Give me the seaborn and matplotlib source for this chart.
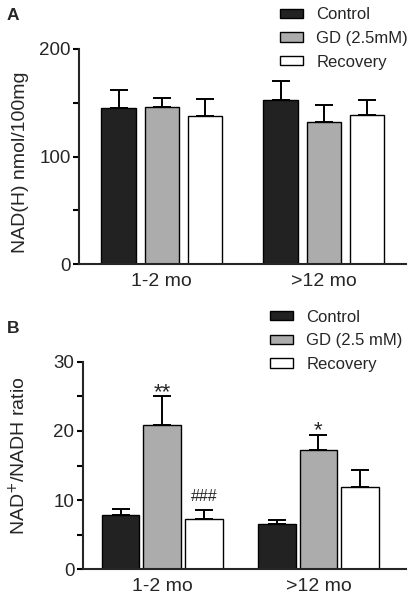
import numpy as np
import pandas as pd
import matplotlib
matplotlib.use("Agg")
import matplotlib.pyplot as plt
import seaborn as sns

ages = ["1-2 mo", ">12 mo"]
groups_a = ["Control", "GD (2.5mM)", "Recovery"]
groups_b = ["Control", "GD (2.5 mM)", "Recovery"]

# Panel A: NAD(H) nmol/100mg (mean, upper error)
nadh_control = [145.4, 152.8]
nadh_gd = [145.6, 131.8]
nadh_recovery = [138.0, 138.2]
nadh_control_err = [16.0, 16.9]
nadh_gd_err = [8.7, 16.3]
nadh_recovery_err = [15.7, 14.6]

# Panel B: NAD+/NADH ratio
ratio_control = [7.9, 6.5]
ratio_gd = [20.9, 17.3]
ratio_recovery = [7.3, 11.9]
ratio_control_err = [0.8, 0.6]
ratio_gd_err = [4.1, 2.1]
ratio_recovery_err = [1.3, 2.5]

annot_b = [("GD (2.5 mM)", "1-2 mo", "**", 16, -1.5),
           ("Recovery", "1-2 mo", "###", 11.5, 6.5),
           ("GD (2.5 mM)", ">12 mo", "*", 16, -1.0)]

colors = ["#222222", "#acacac", "#ffffff"]

sns.set_style("ticks")
plt.rcParams['font.family'] = ['Liberation Sans', 'DejaVu Sans']
plt.rcParams['font.size'] = 10

fig = plt.figure(figsize=(4.15, 6.0), dpi=100)
axA = fig.add_axes([0.190, 0.5595, 0.788, 0.3593])
axB = fig.add_axes([0.199, 0.0512, 0.779, 0.3458])

FS = 13.5
LFS = 12


def make_df(groups, vals, errs):
    rows = []
    for g, v, e in zip(groups, vals, errs):
        for a, vv, ee in zip(ages, v, e):
            rows.append({"age": a, "group": g, "value": vv, "err": ee})
    return pd.DataFrame(rows)


def draw(ax, groups, vals, errs, gap):
    df = make_df(groups, vals, errs)
    sns.barplot(data=df, x="age", y="value", hue="group", order=ages,
                hue_order=groups, palette=colors, edgecolor="black",
                linewidth=1.0, errorbar=None, gap=gap, ax=ax, legend=True)
    pos = {}
    bars = [p for p in ax.patches if p.get_height() > 0 and p.get_width() < 1][:6]
    i = 0
    for g in groups:
        for a in ages:
            p = bars[i]
            i += 1
            x = p.get_x() + p.get_width() / 2
            row = df[(df.group == g) & (df.age == a)].iloc[0]
            ax.errorbar(x, row.value, yerr=[[0], [row.err]], fmt="none",
                        ecolor="black", elinewidth=1.4, capsize=6.2,
                        capthick=1.4, zorder=3)
            pos[(g, a)] = (x, row.value + row.err)
    return pos


draw(axA, groups_a, [nadh_control, nadh_gd, nadh_recovery],
     [nadh_control_err, nadh_gd_err, nadh_recovery_err], 0.2)
posB = draw(axB, groups_b, [ratio_control, ratio_gd, ratio_recovery],
            [ratio_control_err, ratio_gd_err, ratio_recovery_err], 0.1)

for g, a, txt, fs, off in annot_b:
    x, y = posB[(g, a)]
    axB.annotate(txt, xy=(x, y), xytext=(0, off), textcoords="offset points",
                 ha="center", va="baseline", fontsize=fs)

axA.set_ylim(0, 200)
axA.set_yticks([0, 100, 200])
axA.set_yticks([50, 150], minor=True)
axA.set_xlim(-0.512, 1.506)
axA.set_ylabel("NAD(H) nmol/100mg", fontsize=14)
axA.yaxis.set_label_coords(-0.153, 0.474)

axB.set_ylim(0, 30)
axB.set_yticks([0, 10, 20, 30])
axB.set_yticks([5, 15, 25], minor=True)
axB.set_xlim(-0.51, 1.56)
axB.set_ylabel("NAD$^{+}$/NADH ratio", fontsize=14)
axB.yaxis.set_label_coords(-0.166, 0.547)

for ax in (axA, axB):
    ax.set_xlabel("")
    sns.despine(ax=ax)
    ax.spines["left"].set_linewidth(1.5)
    ax.spines["bottom"].set_linewidth(1.5)
    ax.tick_params(axis="y", which="both", direction="out", length=4,
                   width=1.5, labelsize=FS, color="black", pad=2)
    ax.tick_params(axis="x", length=0, labelsize=14, pad=6)

legkw = dict(loc="upper left", frameon=False, fontsize=LFS, handlelength=1.38,
             handleheight=0.5, labelspacing=0.52, handletextpad=0.8,
             borderaxespad=0, borderpad=0)
axA.legend(bbox_to_anchor=(0.615, 1.192), **legkw)
axB.legend(bbox_to_anchor=(0.58, 1.252), **legkw)

fig.text(0.017, 0.975, "A", fontsize=12.5, fontweight="bold", va="center")
fig.text(0.017, 0.4517, "B", fontsize=12.5, fontweight="bold", va="center")

fig.savefig("out.png", dpi=100)
